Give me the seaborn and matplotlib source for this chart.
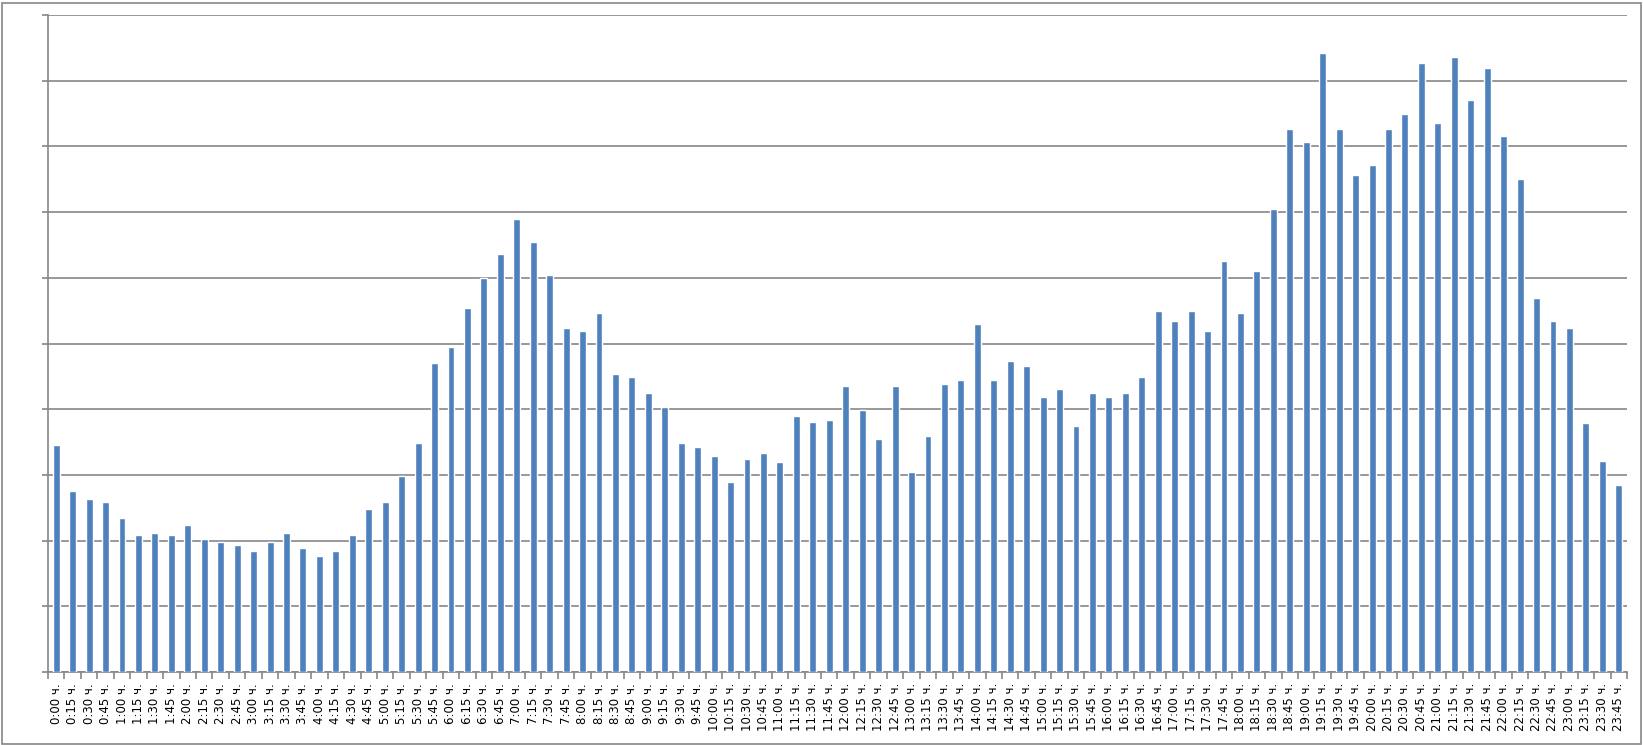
import matplotlib
matplotlib.use("Agg")
import matplotlib.pyplot as plt
import seaborn as sns
import pandas as pd
import numpy as np
from matplotlib.patches import Rectangle

times = [f"{h}:{m:02d} ч." for h in range(24) for m in (0, 15, 30, 45)]
values = [
    3.45, 2.75, 2.64, 2.59, 2.35, 2.08, 2.12, 2.08,
    2.24, 2.03, 1.98, 1.93, 1.84, 1.98, 2.12, 1.88,
    1.77, 1.84, 2.08, 2.48, 2.59, 2.99, 3.48, 4.70,
    4.95, 5.54, 5.99, 6.36, 6.90, 6.55, 6.05, 5.24,
    5.19, 5.46, 4.54, 4.49, 4.25, 4.04, 3.48, 3.43,
    3.29, 2.89, 3.24, 3.34, 3.19, 3.90, 3.80, 3.83,
    4.35, 3.99, 3.55, 4.35, 3.04, 3.59, 4.39, 4.44,
    5.30, 4.44, 4.74, 4.65, 4.19, 4.30, 3.74, 4.25,
    4.19, 4.25, 4.49, 5.50, 5.35, 5.50, 5.19, 6.25,
    5.46, 6.10, 7.04, 8.26, 8.07, 9.42, 8.26, 7.56,
    7.72, 8.26, 8.50, 9.27, 8.35, 9.36, 8.71, 9.20,
    8.16, 7.51, 5.69, 5.35, 5.24, 3.79, 3.21, 2.84,
]

df = pd.DataFrame({"time": times, "value": values})

sns.set_style("white")
plt.rcParams['font.family'] = ['DejaVu Sans']

W, H = 1643, 745
fig = plt.figure(figsize=(W / 100, H / 100), dpi=100)
left, right, top, bottom = 48, 1627, 15, 672
ax = fig.add_axes([left / W, (H - bottom) / H, (right - left) / W, (bottom - top) / H])

sns.barplot(data=df, x="time", y="value", color="#4F81BD", saturation=1,
            width=0.42, ax=ax, zorder=3)

ax.set_ylim(0, 10)
ax.set_xlim(-0.5, len(times) - 0.5)
ax.set_yticks(np.arange(0, 11, 1))
ax.set_yticklabels([])
ax.yaxis.grid(True, color="#868686", linewidth=1.2, zorder=0)
ax.set_axisbelow(True)
ax.set_xlabel("")
ax.set_ylabel("")

for s in ("top", "right"):
    ax.spines[s].set_visible(False)
for s in ("left", "bottom"):
    ax.spines[s].set_color("#868686")
    ax.spines[s].set_linewidth(1.2)

ax.set_xticks(np.arange(len(times)))
ax.set_xticklabels(times, rotation=90, fontsize=8.5, color="#000000")
ax.set_xticks(np.arange(-0.5, len(times), 1), minor=True)
ax.tick_params(axis="x", which="major", length=0, pad=8)
ax.tick_params(axis="x", which="minor", length=5, color="#868686", width=1.2, direction="out", bottom=True)
ax.tick_params(axis="y", which="major", length=4, color="#868686", width=1.2, left=True, direction="out")

fig.patches.append(Rectangle((1.5 / W, 1.5 / H), (W - 4) / W, (H - 4) / H,
                             transform=fig.transFigure, fill=False,
                             edgecolor="#868686", linewidth=1.2))

fig.savefig("out.png", dpi=100, facecolor="white")
